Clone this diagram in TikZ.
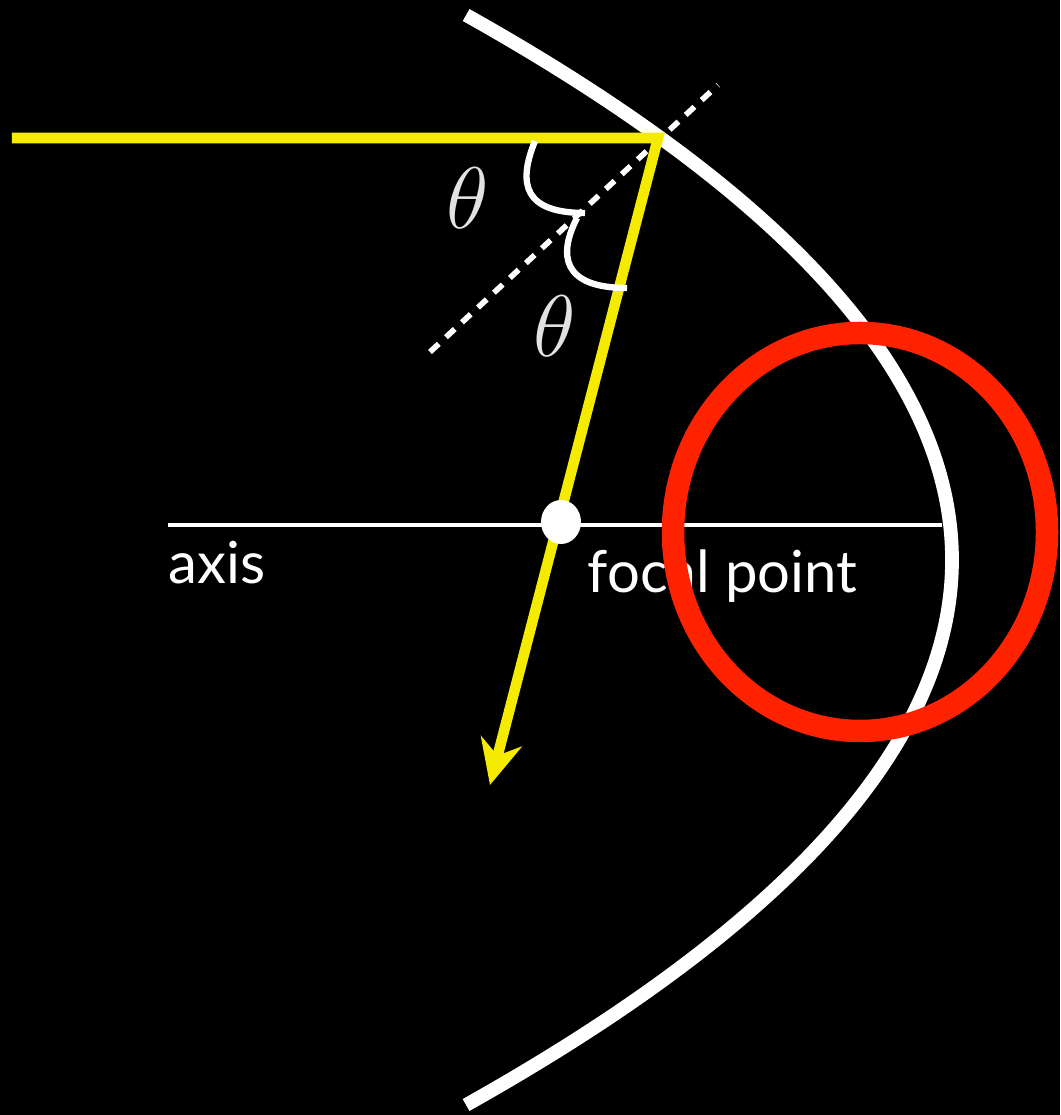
\documentclass[tikz,border=0pt]{standalone}
\usepackage{fontspec}
\setmainfont{Lato}
\usetikzlibrary{arrows.meta, shapes.geometric, positioning}
\definecolor{raygold}{HTML}{F5EB00}
\definecolor{ringred}{HTML}{FF2200}
\definecolor{thetagrey}{HTML}{E2E2E2}

\begin{document}
\begin{tikzpicture}[
    mirror/.style={draw=white, line width=3.9pt},
    ray/.style={draw=raygold, line width=3pt, line join=miter},
    perp/.style={draw=white, line width=1.6pt, dash pattern=on 3.4pt off 2.8pt},
    angmark/.style={draw=white, line width=1.8pt},
    ring/.style={draw=ringred, line width=6.4pt},
    lbl/.style={text=white, font=\fontsize{16.5}{19}\selectfont, anchor=base west, inner sep=0pt},
    ang/.style={text=thetagrey, font=\fontsize{28}{30}\selectfont, inner sep=0pt}
]
    \fill[black] (0,0) rectangle (10.6,11.15);
    \draw[mirror] plot[domain=-5.45:5.45, samples=90, smooth] ({9.52-0.1636*(\x)^2}, {5.55+\x});

    \coordinate (axisL) at (1.68,5.90);
    \coordinate (axisR) at (9.42,5.90);
    \draw[white, line width=1.2pt] (axisL) -- (axisR);

    \coordinate (perpA) at (4.30,7.63);
    \coordinate (perpB) at (7.18,10.30);
    \draw[perp] (perpA) -- (perpB);

    \coordinate (src) at (0.12,9.77);
    \coordinate (hit) at (6.58,9.77);
    \coordinate (tip) at (4.90,3.30);
    \draw[ray, -{Stealth[length=0.45cm, width=0.42cm]}] (src) -- (hit) -- (tip);

    \draw[angmark] (5.35,9.74) .. controls (5.17,9.30) and (5.25,9.02) .. (5.85,9.02);
    \draw[angmark] (5.77,8.97) .. controls (5.58,8.60) and (5.62,8.27) .. (6.27,8.27);
    \node[ang] (theta1) at (4.68,9.17) {$\theta$};
    \node[ang] (theta2) at (5.55,7.89) {$\theta$};

    \node[ellipse, fill=white, minimum width=0.40cm, minimum height=0.44cm, inner sep=0pt] (focus) at (5.61,5.93) {};
    \node[lbl] (axislbl) at (1.68,5.31) {axis};
    \node[lbl] (focallbl) at (5.87,5.22) {focal point};

    \draw[ring] (8.60,5.83) ellipse [x radius=1.87cm, y radius=1.99cm];
\end{tikzpicture}
\end{document}
